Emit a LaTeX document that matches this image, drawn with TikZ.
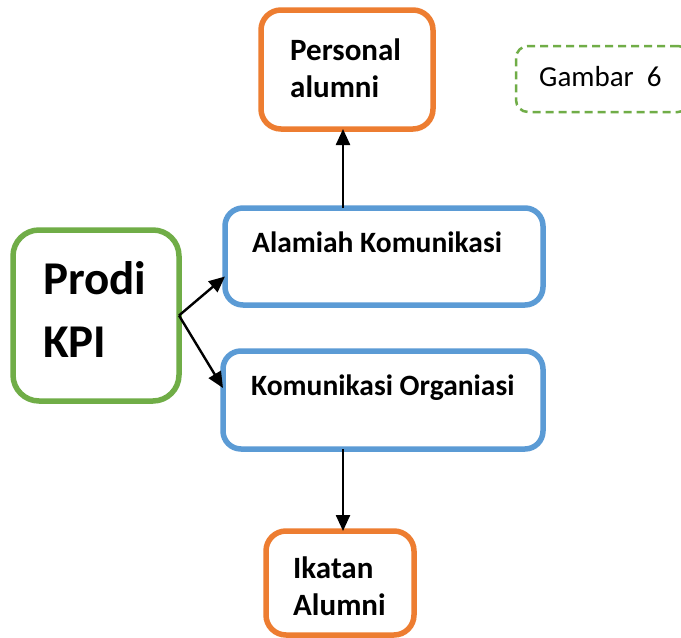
\documentclass[tikz,border=0pt]{standalone}
\usepackage{fontspec}
\setmainfont{Carlito}
\usetikzlibrary{arrows.meta,calc}
\definecolor{orng}{HTML}{ED7D31}
\definecolor{blu}{HTML}{5B9BD5}
\definecolor{grn}{HTML}{70AD47}
\begin{document}
\begin{tikzpicture}[x=1pt,y=-1pt,
  box/.style={draw, line width=5.5pt, fill=white, inner sep=0pt, outer sep=0pt},
  obox/.style={box, draw=orng, rounded corners=20pt},
  bbox/.style={box, draw=blu, rounded corners=18pt},
  gbox/.style={box, draw=grn, rounded corners=26pt},
  dbox/.style={draw=grn, line width=2.5pt, dash pattern=on 8pt off 5pt, rounded corners=12pt, inner sep=0pt, outer sep=0pt},
  olbl/.style={anchor=base west, inner sep=0pt, font=\bfseries\fontsize{31}{37}\selectfont},
  lbl/.style={anchor=base west, inner sep=0pt, font=\bfseries\fontsize{29.5}{36}\selectfont},
  big/.style={anchor=base west, inner sep=0pt, font=\bfseries\fontsize{47}{56}\selectfont},
  arr/.style={line width=2.4pt, -{Triangle[length=16pt,width=14pt]}}]
\useasboundingbox (0,0) rectangle (681,638);
\fill[white] (0,0) rectangle (681,638);
% boxes
\node[obox, minimum width=172pt, minimum height=119pt] (personal) at (347,69.5) {};
\node[bbox, minimum width=318pt, minimum height=97pt] (alamiah) at (384,256.5) {};
\node[bbox, minimum width=320pt, minimum height=98pt] (komun) at (383,400) {};
\node[gbox, minimum width=166pt, minimum height=171pt] (prodi) at (96,315.5) {};
\node[obox, minimum width=148pt, minimum height=104pt] (ikatan) at (340,583) {};
\node[dbox, minimum width=174pt, minimum height=66pt] (gambar) at (603,79) {};
% texts
\node[olbl] (t1) at (290,60) {Personal};
\node[olbl] (t2) at (290,97) {alumni};
\node[big] (t3) at (43,294) {Prodi};
\node[big] (t4) at (43,357) {KPI};
\node[lbl] (t5) at (252,252) {Alamiah Komunikasi};
\node[lbl] (t6) at (251,395) {Komunikasi Organiasi};
\node[olbl] (t7) at (293,578) {Ikatan};
\node[olbl] (t8) at (293,615) {Alumni};
\node[anchor=base west, inner sep=0pt, font=\fontsize{29}{35}\selectfont] (t9) at (539,86) {Gambar\ \ 6};
% arrows
\coordinate (ax) at (343,0);
\draw[arr] (prodi.east) -- ($(alamiah.west)+(0,20)$);
\draw[arr] (prodi.east) -- ($(komun.west)+(0,-12)$);
\draw[arr] (alamiah.north -| ax) -- (personal.south -| ax);
\draw[arr] (komun.south -| ax) -- (ikatan.north -| ax);
\end{tikzpicture}
\end{document}
